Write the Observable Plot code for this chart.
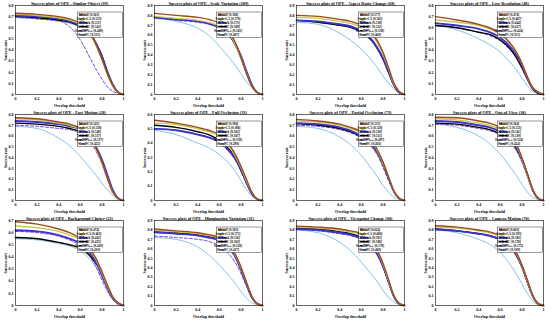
<!DOCTYPE html>
<html><head><meta charset="utf-8">
<script src="https://cdn.jsdelivr.net/npm/d3@7"></script>
<script src="https://cdn.jsdelivr.net/npm/@observablehq/plot@0.6"></script>
<style>
html,body{margin:0;padding:0;background:#fff;}
#wrap{position:relative;width:550px;height:321px;overflow:hidden;background:#fff;}
#wrap svg{position:absolute;}
</style></head><body><div id="wrap"></div>
<script>
const thresholds = [0,0.2,0.4,0.5,0.6,0.7,0.75,0.8,0.85,0.9,0.95,1];
const trackers = ["MCCT","Staple-CA","UDTrack","ECO-HC","SiamRPN++","SiamFC"];
const colors = ["#9c4a1a","#c9c95a","#3c34c8","#000000","#7a3ce0","#86c3e8"];
const widths = [1.4,1.4,1.9,1.4,1.0,1.0];
const dashes = [null,null,null,null,"3,2",null];
const titles = [
 "Success plots of OPE - Similar Object (39)",
 "Success plots of OPE - Scale Variation (109)",
 "Success plots of OPE - Aspect Ratio Change (68)",
 "Success plots of OPE - Low Resolution (48)",
 "Success plots of OPE - Fast Motion (28)",
 "Success plots of OPE - Full Occlusion (33)",
 "Success plots of OPE - Partial Occlusion (73)",
 "Success plots of OPE - Out-of-View (30)",
 "Success plots of OPE - Background Clutter (21)",
 "Success plots of OPE - Illumination Variation (31)",
 "Success plots of OPE - Viewpoint Change (60)",
 "Success plots of OPE - Camera Motion (70)"];
const yMax = [0.8,0.9,0.9,0.8,0.8,0.6,0.8,0.8,0.7,0.9,0.9,0.9];
const auc = [
 [0.561,0.553,0.551,0.543,0.480,0.535],
 [0.586,0.570,0.573,0.569,0.561,0.487],
 [0.577,0.562,0.538,0.532,0.538,0.468],
 [0.474,0.467,0.444,0.427,0.424,0.355],
 [0.545,0.538,0.548,0.537,0.517,0.422],
 [0.394,0.386,0.362,0.367,0.358,0.298],
 [0.535,0.528,0.518,0.511,0.497,0.416],
 [0.564,0.551,0.541,0.539,0.524,0.424],
 [0.474,0.463,0.442,0.423,0.418,0.410],
 [0.583,0.575,0.556,0.563,0.518,0.427],
 [0.614,0.606,0.585,0.588,0.578,0.468],
 [0.602,0.593,0.583,0.578,0.572,0.509]];
const s1 = [
 [0.73,0.72,0.70,0.68,0.64,0.54,0.44,0.32,0.19,0.08,0.02,0],
 [0.72,0.71,0.69,0.67,0.63,0.53,0.43,0.31,0.18,0.08,0.02,0],
 [0.71,0.70,0.68,0.66,0.62,0.54,0.45,0.34,0.20,0.09,0.02,0],
 [0.70,0.69,0.67,0.65,0.61,0.53,0.45,0.35,0.21,0.09,0.02,0],
 [0.70,0.68,0.66,0.61,0.49,0.31,0.22,0.14,0.07,0.03,0.01,0],
 [0.69,0.68,0.66,0.64,0.60,0.52,0.43,0.32,0.19,0.08,0.02,0]];
const s2 = [
 [0.82,0.80,0.78,0.76,0.72,0.62,0.52,0.38,0.22,0.09,0.02,0],
 [0.79,0.77,0.75,0.73,0.69,0.60,0.50,0.37,0.22,0.09,0.02,0],
 [0.78,0.76,0.74,0.72,0.68,0.60,0.51,0.39,0.24,0.10,0.02,0],
 [0.78,0.76,0.74,0.72,0.68,0.59,0.50,0.38,0.23,0.10,0.02,0],
 [0.78,0.75,0.73,0.71,0.67,0.58,0.49,0.36,0.21,0.08,0.02,0],
 [0.77,0.74,0.67,0.60,0.49,0.36,0.29,0.21,0.13,0.07,0.02,0]];
const s3 = [
 [0.80,0.79,0.76,0.74,0.70,0.62,0.54,0.43,0.28,0.12,0.03,0],
 [0.78,0.77,0.74,0.72,0.68,0.60,0.52,0.41,0.27,0.11,0.03,0],
 [0.75,0.74,0.71,0.69,0.64,0.55,0.47,0.37,0.24,0.10,0.02,0],
 [0.75,0.73,0.70,0.68,0.63,0.54,0.46,0.36,0.23,0.10,0.02,0],
 [0.75,0.73,0.70,0.68,0.63,0.55,0.47,0.37,0.24,0.10,0.02,0],
 [0.73,0.71,0.62,0.55,0.46,0.34,0.27,0.19,0.12,0.06,0.02,0]];
const s4 = [
 [0.70,0.67,0.63,0.60,0.55,0.45,0.38,0.28,0.16,0.06,0.02,0],
 [0.67,0.65,0.62,0.59,0.54,0.45,0.38,0.28,0.16,0.06,0.02,0],
 [0.64,0.62,0.59,0.56,0.51,0.42,0.35,0.26,0.15,0.06,0.02,0],
 [0.62,0.60,0.56,0.54,0.49,0.40,0.33,0.24,0.14,0.05,0.01,0],
 [0.62,0.60,0.56,0.53,0.48,0.39,0.33,0.24,0.14,0.05,0.01,0],
 [0.62,0.58,0.50,0.45,0.38,0.28,0.22,0.15,0.08,0.03,0.01,0]];
const s5 = [
 [0.77,0.76,0.73,0.71,0.67,0.57,0.48,0.36,0.21,0.08,0.02,0],
 [0.76,0.75,0.72,0.70,0.66,0.56,0.47,0.35,0.21,0.08,0.02,0],
 [0.74,0.73,0.71,0.69,0.66,0.57,0.49,0.38,0.24,0.10,0.02,0],
 [0.72,0.71,0.69,0.67,0.64,0.56,0.48,0.37,0.23,0.09,0.02,0],
 [0.70,0.69,0.67,0.66,0.62,0.53,0.45,0.34,0.20,0.08,0.02,0],
 [0.69,0.67,0.58,0.51,0.41,0.29,0.23,0.16,0.10,0.05,0.01,0]];
const s6 = [
 [0.56,0.54,0.51,0.49,0.46,0.38,0.32,0.24,0.15,0.06,0.01,0],
 [0.54,0.53,0.50,0.48,0.45,0.37,0.31,0.23,0.14,0.06,0.01,0],
 [0.50,0.49,0.46,0.44,0.41,0.34,0.29,0.22,0.13,0.05,0.01,0],
 [0.525,0.51,0.48,0.46,0.42,0.35,0.29,0.21,0.13,0.05,0.01,0],
 [0.50,0.49,0.46,0.44,0.40,0.33,0.28,0.21,0.12,0.05,0.01,0],
 [0.49,0.46,0.40,0.37,0.32,0.25,0.20,0.14,0.08,0.03,0.01,0]];
const s7 = [
 [0.755,0.74,0.71,0.68,0.64,0.55,0.47,0.36,0.22,0.09,0.02,0],
 [0.74,0.73,0.70,0.67,0.63,0.54,0.46,0.35,0.22,0.09,0.02,0],
 [0.72,0.71,0.68,0.65,0.60,0.52,0.45,0.35,0.22,0.09,0.02,0],
 [0.715,0.70,0.67,0.64,0.59,0.51,0.44,0.34,0.21,0.09,0.02,0],
 [0.70,0.69,0.66,0.63,0.58,0.49,0.42,0.31,0.19,0.08,0.02,0],
 [0.69,0.67,0.59,0.52,0.42,0.29,0.22,0.14,0.08,0.03,0.01,0]];
const s8 = [
 [0.775,0.77,0.74,0.72,0.68,0.60,0.52,0.40,0.25,0.10,0.02,0],
 [0.76,0.75,0.72,0.70,0.66,0.58,0.51,0.39,0.24,0.10,0.02,0],
 [0.74,0.73,0.70,0.68,0.64,0.56,0.49,0.38,0.24,0.10,0.02,0],
 [0.72,0.71,0.68,0.66,0.62,0.55,0.48,0.38,0.25,0.10,0.02,0],
 [0.71,0.70,0.67,0.65,0.61,0.53,0.46,0.36,0.23,0.09,0.02,0],
 [0.71,0.68,0.60,0.53,0.43,0.30,0.23,0.15,0.08,0.03,0.01,0]];
const s9 = [
 [0.69,0.67,0.63,0.60,0.55,0.45,0.38,0.28,0.17,0.07,0.02,0],
 [0.655,0.64,0.61,0.58,0.54,0.44,0.37,0.27,0.16,0.07,0.02,0],
 [0.62,0.61,0.58,0.55,0.51,0.42,0.35,0.25,0.15,0.06,0.02,0],
 [0.56,0.55,0.52,0.50,0.47,0.40,0.34,0.26,0.16,0.07,0.02,0],
 [0.61,0.60,0.57,0.54,0.49,0.39,0.31,0.21,0.12,0.05,0.01,0],
 [0.55,0.54,0.51,0.49,0.45,0.37,0.31,0.23,0.14,0.06,0.02,0]];
const s10 = [
 [0.81,0.79,0.77,0.75,0.72,0.63,0.54,0.41,0.25,0.10,0.02,0],
 [0.80,0.78,0.76,0.74,0.71,0.62,0.53,0.40,0.25,0.10,0.02,0],
 [0.775,0.76,0.74,0.72,0.69,0.60,0.51,0.38,0.23,0.09,0.02,0],
 [0.78,0.77,0.75,0.73,0.70,0.61,0.52,0.39,0.24,0.09,0.02,0],
 [0.735,0.72,0.70,0.68,0.63,0.53,0.45,0.34,0.21,0.08,0.02,0],
 [0.72,0.70,0.62,0.54,0.43,0.30,0.23,0.15,0.08,0.03,0.01,0]];
const s11 = [
 [0.84,0.83,0.81,0.79,0.76,0.67,0.58,0.45,0.28,0.11,0.02,0],
 [0.83,0.82,0.80,0.78,0.75,0.66,0.57,0.44,0.27,0.11,0.02,0],
 [0.81,0.80,0.77,0.75,0.71,0.62,0.54,0.42,0.26,0.10,0.02,0],
 [0.82,0.81,0.78,0.76,0.72,0.63,0.54,0.42,0.26,0.10,0.02,0],
 [0.805,0.79,0.76,0.74,0.70,0.61,0.53,0.41,0.25,0.10,0.02,0],
 [0.80,0.77,0.67,0.58,0.46,0.32,0.25,0.16,0.09,0.04,0.01,0]];
const s12 = [
 [0.845,0.83,0.80,0.78,0.74,0.65,0.56,0.43,0.27,0.11,0.02,0],
 [0.83,0.82,0.79,0.77,0.73,0.64,0.55,0.42,0.26,0.10,0.02,0],
 [0.81,0.79,0.76,0.74,0.70,0.62,0.54,0.42,0.26,0.10,0.02,0],
 [0.805,0.79,0.76,0.74,0.70,0.61,0.53,0.41,0.25,0.10,0.02,0],
 [0.81,0.79,0.76,0.73,0.69,0.60,0.52,0.40,0.24,0.10,0.02,0],
 [0.80,0.77,0.70,0.65,0.56,0.42,0.33,0.23,0.13,0.05,0.01,0]];
const series = [s1,s2,s3,s4,s5,s6,s7,s8,s9,s10,s11,s12];

const colLeft = [15,154,296,435];
const rowTop = [5,114,220];
const rowBottom = [94,200,305];
const plotW = 108;
const font = "'Liberation Serif','DejaVu Serif',serif";
const wrap = document.getElementById("wrap");

series.forEach((s, p) => {
  const r = Math.floor(p/4), c = p%4;
  const mL = 15, mR = 4, mT = 7, mB = 16;
  const ph = rowBottom[r]-rowTop[r];
  const data = [];
  s.forEach((vals, j) => vals.forEach((v, k) => data.push({x: thresholds[k], y: v, t: j})));
  const yt = d3.range(0, Math.round(yMax[p]*10)+1).map(d => d/10);
  const lines = [5,4,3,2,1,0].map(j => Plot.line(data.filter(d => d.t===j), {
    x: "x", y: "y", stroke: colors[j], strokeWidth: widths[j],
    strokeDasharray: dashes[j] ?? undefined, curve: "monotone-x"}));
  const fmt = d => d===0 ? "0" : d===1 ? "1" : d.toFixed(1);
  const chart = Plot.plot({
    width: mL+plotW+mR, height: mT+ph+mB,
    marginLeft: mL, marginRight: mR, marginTop: mT, marginBottom: mB,
    style: {fontFamily: font, fontSize: "4px", fontWeight: "bold", background: "transparent", overflow: "visible", color:"#000"},
    x: {domain: [0,1]},
    y: {domain: [0,yMax[p]]},
    marks: [
      ...lines,
      Plot.frame({stroke: "#000", strokeWidth: 0.6}),
      Plot.axisX({ticks: [0,0.2,0.4,0.6,0.8,1], tickFormat: fmt, tickSize: 0, tickPadding: 2.5,
        label: "Overlap threshold", labelAnchor: "center", labelArrow: "none", labelOffset: 12, fontSize: 4}),
      Plot.axisY({ticks: yt, tickFormat: fmt, tickSize: 0, tickPadding: 2,
        label: "Success rate", labelAnchor: "center", labelArrow: "none", labelOffset: 11, fontSize: 4}),
      Plot.text([titles[p]], {text: d => d, frameAnchor: "top", dy: -3.2, fontSize: 4.3, fontWeight: "bold", fill: "#000"})
    ]
  });
  chart.style.left = (colLeft[c]-mL) + "px";
  chart.style.top = (rowTop[r]-mT) + "px";
  // legend
  const svg = d3.select(chart);
  const lw = 45, rh = 3.9, lh = rh*6+2;
  const lx = mL + plotW - lw - 0.5, ly = mT + 7;
  const g = svg.append("g").attr("transform", `translate(${lx},${ly})`);
  g.append("rect").attr("width", lw).attr("height", lh).attr("fill", "#fff").attr("stroke", "#000").attr("stroke-width", 0.4);
  trackers.forEach((name, j) => {
    const yy = 1 + rh*j + rh/2;
    g.append("line").attr("x1", 1.5).attr("x2", 10).attr("y1", yy).attr("y2", yy)
      .attr("stroke", colors[j]).attr("stroke-width", widths[j]).attr("stroke-dasharray", dashes[j]);
    g.append("text").attr("x", 11.5).attr("y", yy).attr("dy", "0.35em")
      .attr("font-size", 3.3).attr("font-weight", "bold").attr("font-family", font)
      .text(`${name} [${auc[p][j].toFixed(3)}]`);
  });
  wrap.appendChild(chart);
});
</script></body></html>
